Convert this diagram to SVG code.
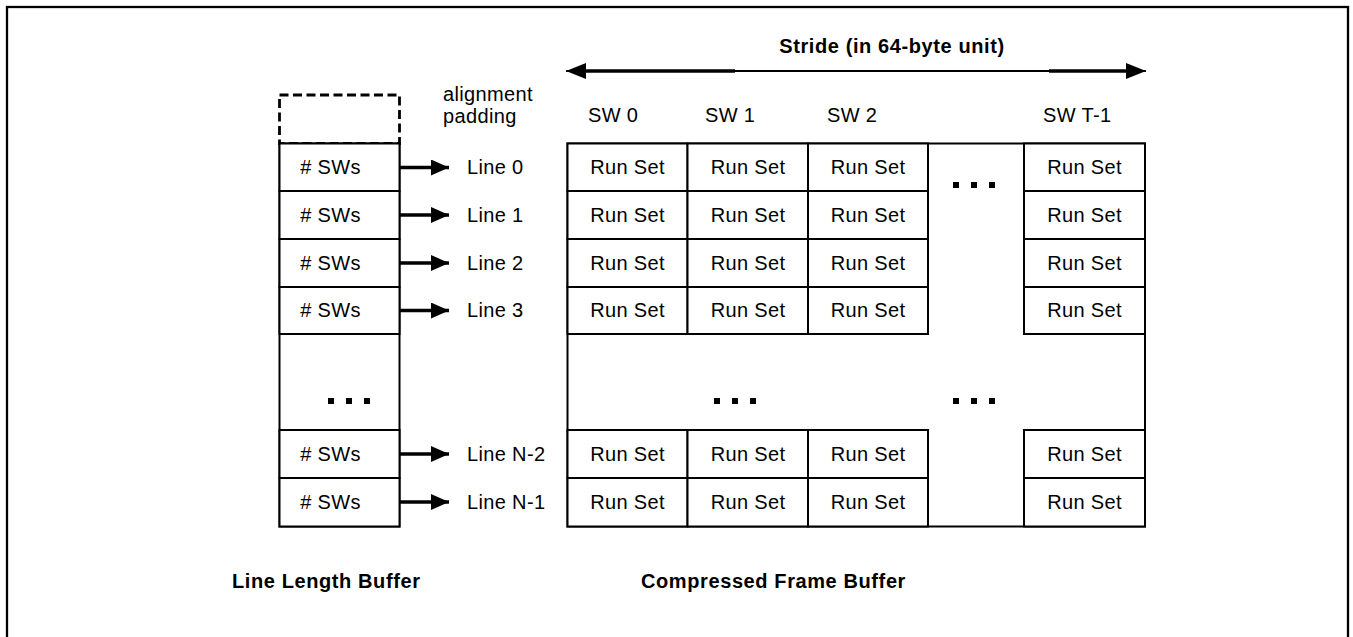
<svg xmlns="http://www.w3.org/2000/svg" width="1353" height="637" viewBox="0 0 1353 637">
  <style>
    .frame { fill: none; stroke: #000; stroke-width: 2.3; }
    .cell { fill: #fff; stroke: #000; stroke-width: 2; }
    .outline { fill: none; stroke: #000; stroke-width: 2; }
    .dash { fill: none; stroke: #000; stroke-width: 2.8; stroke-dasharray: 9 4.5; }
    .t { font-family: "Liberation Sans", Arial, sans-serif; font-size: 20px; letter-spacing: 0.35px; fill: #000; }
    .c { text-anchor: middle; }
    .b { font-weight: bold; letter-spacing: 0.6px; }
    .dot { fill: #000; }
    .arrow { stroke: #000; stroke-width: 3.5; fill: none; }
  </style>
  <defs>
    <marker id="head" markerUnits="userSpaceOnUse" markerWidth="20" markerHeight="18" refX="18" refY="8" orient="auto">
      <path d="M0,0 L18,8 L0,16 Z" fill="#000"/>
    </marker>
    <marker id="headStart" markerUnits="userSpaceOnUse" markerWidth="22" markerHeight="18" refX="0" refY="8" orient="auto">
      <path d="M20,0 L0,8 L20,16 Z" fill="#000"/>
    </marker>
    <marker id="headEnd" markerUnits="userSpaceOnUse" markerWidth="22" markerHeight="18" refX="20" refY="8" orient="auto">
      <path d="M0,0 L20,8 L0,16 Z" fill="#000"/>
    </marker>
  </defs>

  <rect width="1353" height="637" fill="#fff"/>
  <rect class="frame" x="7" y="7" width="1341" height="700"/>

  <!-- Line length buffer -->
  <g id="line-length-buffer">
    <rect class="dash" x="279.5" y="95" width="120" height="48.5"/>
    <rect class="outline" x="279.5" y="143.5" width="120" height="383"/>
    <g id="llb-0"><rect class="cell" x="279.5" y="143.5" width="120" height="47.5"/><text class="t c" x="330.5" y="174">#&#160;SWs</text></g>
    <g id="llb-1"><rect class="cell" x="279.5" y="191" width="120" height="48"/><text class="t c" x="330.5" y="222">#&#160;SWs</text></g>
    <g id="llb-2"><rect class="cell" x="279.5" y="239" width="120" height="48"/><text class="t c" x="330.5" y="270">#&#160;SWs</text></g>
    <g id="llb-3"><rect class="cell" x="279.5" y="287" width="120" height="47"/><text class="t c" x="330.5" y="317">#&#160;SWs</text></g>
    <g id="llb-dots">
      <rect class="dot" x="328" y="398" width="6" height="6"/>
      <rect class="dot" x="346" y="398" width="6" height="6"/>
      <rect class="dot" x="364" y="398" width="6" height="6"/>
    </g>
    <g id="llb-n2"><rect class="cell" x="279.5" y="430" width="120" height="48"/><text class="t c" x="330.5" y="461">#&#160;SWs</text></g>
    <g id="llb-n1"><rect class="cell" x="279.5" y="478" width="120" height="48.5"/><text class="t c" x="330.5" y="509">#&#160;SWs</text></g>
  </g>

  <!-- labels beside the line length buffer -->
  <g id="line-labels">
    <text class="t" x="443" y="101">alignment</text>
    <text class="t" x="443" y="123">padding</text>
    <text class="t" x="467" y="174">Line 0</text>
    <text class="t" x="467" y="222">Line 1</text>
    <text class="t" x="467" y="270">Line 2</text>
    <text class="t" x="467" y="317">Line 3</text>
    <text class="t" x="467" y="461">Line N-2</text>
    <text class="t" x="467" y="509">Line N-1</text>
  </g>

  <!-- Compressed frame buffer -->
  <g id="compressed-frame-buffer">
    <rect class="outline" x="567.5" y="143.5" width="577.5" height="383"/>
    <g id="sw-headers">
      <text class="t" x="588" y="122">SW 0</text>
      <text class="t" x="705" y="122">SW 1</text>
      <text class="t" x="827" y="122">SW 2</text>
      <text class="t" x="1043" y="122">SW T-1</text>
    </g>
    <g id="row-0">
      <rect class="cell" x="567.5" y="143.5" width="120" height="47.5"/><text class="t c" x="627.5" y="174">Run Set</text>
      <rect class="cell" x="687.5" y="143.5" width="120.5" height="47.5"/><text class="t c" x="748" y="174">Run Set</text>
      <rect class="cell" x="808" y="143.5" width="120" height="47.5"/><text class="t c" x="868" y="174">Run Set</text>
      <rect class="cell" x="1024" y="143.5" width="121" height="47.5"/><text class="t c" x="1084.5" y="174">Run Set</text>
    </g>
    <g id="row-1">
      <rect class="cell" x="567.5" y="191" width="120" height="48"/><text class="t c" x="627.5" y="222">Run Set</text>
      <rect class="cell" x="687.5" y="191" width="120.5" height="48"/><text class="t c" x="748" y="222">Run Set</text>
      <rect class="cell" x="808" y="191" width="120" height="48"/><text class="t c" x="868" y="222">Run Set</text>
      <rect class="cell" x="1024" y="191" width="121" height="48"/><text class="t c" x="1084.5" y="222">Run Set</text>
    </g>
    <g id="row-2">
      <rect class="cell" x="567.5" y="239" width="120" height="48"/><text class="t c" x="627.5" y="270">Run Set</text>
      <rect class="cell" x="687.5" y="239" width="120.5" height="48"/><text class="t c" x="748" y="270">Run Set</text>
      <rect class="cell" x="808" y="239" width="120" height="48"/><text class="t c" x="868" y="270">Run Set</text>
      <rect class="cell" x="1024" y="239" width="121" height="48"/><text class="t c" x="1084.5" y="270">Run Set</text>
    </g>
    <g id="row-3">
      <rect class="cell" x="567.5" y="287" width="120" height="47"/><text class="t c" x="627.5" y="317">Run Set</text>
      <rect class="cell" x="687.5" y="287" width="120.5" height="47"/><text class="t c" x="748" y="317">Run Set</text>
      <rect class="cell" x="808" y="287" width="120" height="47"/><text class="t c" x="868" y="317">Run Set</text>
      <rect class="cell" x="1024" y="287" width="121" height="47"/><text class="t c" x="1084.5" y="317">Run Set</text>
    </g>
    <g id="row-n2">
      <rect class="cell" x="567.5" y="430" width="120" height="48"/><text class="t c" x="627.5" y="461">Run Set</text>
      <rect class="cell" x="687.5" y="430" width="120.5" height="48"/><text class="t c" x="748" y="461">Run Set</text>
      <rect class="cell" x="808" y="430" width="120" height="48"/><text class="t c" x="868" y="461">Run Set</text>
      <rect class="cell" x="1024" y="430" width="121" height="48"/><text class="t c" x="1084.5" y="461">Run Set</text>
    </g>
    <g id="row-n1">
      <rect class="cell" x="567.5" y="478" width="120" height="48.5"/><text class="t c" x="627.5" y="509">Run Set</text>
      <rect class="cell" x="687.5" y="478" width="120.5" height="48.5"/><text class="t c" x="748" y="509">Run Set</text>
      <rect class="cell" x="808" y="478" width="120" height="48.5"/><text class="t c" x="868" y="509">Run Set</text>
      <rect class="cell" x="1024" y="478" width="121" height="48.5"/><text class="t c" x="1084.5" y="509">Run Set</text>
    </g>
    <g id="cfb-dots">
      <rect class="dot" x="953" y="182" width="6" height="6"/>
      <rect class="dot" x="971" y="182" width="6" height="6"/>
      <rect class="dot" x="989" y="182" width="6" height="6"/>
      <rect class="dot" x="714" y="398" width="6" height="6"/>
      <rect class="dot" x="732" y="398" width="6" height="6"/>
      <rect class="dot" x="750" y="398" width="6" height="6"/>
      <rect class="dot" x="953" y="398" width="6" height="6"/>
      <rect class="dot" x="971" y="398" width="6" height="6"/>
      <rect class="dot" x="989" y="398" width="6" height="6"/>
    </g>
  </g>

  <!-- Connectors -->
  <g id="connectors">
    <!-- stride span -->
    <line x1="566" y1="71" x2="1146" y2="71" stroke="#000" stroke-width="2.2" marker-start="url(#headStart)" marker-end="url(#headEnd)"/>
    <line x1="582" y1="71" x2="735" y2="71" stroke="#000" stroke-width="3.4"/>
    <line x1="1049" y1="71" x2="1130" y2="71" stroke="#000" stroke-width="3.4"/>
    <!-- line pointers -->
    <line class="arrow" x1="399" y1="167.5" x2="449" y2="167.5" marker-end="url(#head)"/>
    <line class="arrow" x1="399" y1="215" x2="449" y2="215" marker-end="url(#head)"/>
    <line class="arrow" x1="399" y1="263" x2="449" y2="263" marker-end="url(#head)"/>
    <line class="arrow" x1="399" y1="310.5" x2="449" y2="310.5" marker-end="url(#head)"/>
    <line class="arrow" x1="399" y1="454" x2="449" y2="454" marker-end="url(#head)"/>
    <line class="arrow" x1="399" y1="502" x2="449" y2="502" marker-end="url(#head)"/>
  </g>

  <g id="captions">
    <text class="t c b" x="892" y="53">Stride (in 64-byte unit)</text>
    <text class="t b" x="232" y="588">Line Length Buffer</text>
    <text class="t b" x="641" y="588">Compressed Frame Buffer</text>
  </g>
</svg>
